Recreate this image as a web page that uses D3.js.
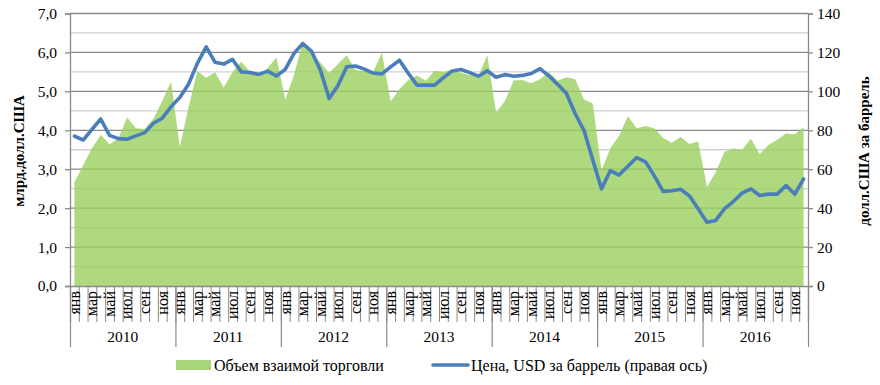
<!DOCTYPE html>
<html><head><meta charset="utf-8">
<script src="https://cdn.jsdelivr.net/npm/d3@7/dist/d3.min.js"></script>
<style>
body{margin:0;background:#fff;}
text{font-family:"Liberation Serif","Times New Roman",serif;fill:#000;}
</style></head>
<body><svg id="c" width="880" height="385"></svg>
<script>
const years = ["2010","2011","2012","2013","2014","2015","2016"];
const monthNames = ["янв","фев","мар","апр","май","июн","июл","авг","сен","окт","ноя","дек"];
const tradeVolume = [
  2.66,3.10,3.54,3.88,3.64,3.79,4.33,4.05,4.03,4.30,4.75,5.25,
  3.58,4.60,5.52,5.35,5.49,5.10,5.50,5.76,5.50,5.38,5.60,5.87,
  4.79,5.42,6.28,6.00,5.74,5.47,5.70,5.93,5.54,5.53,5.50,5.99,
  4.74,5.06,5.29,5.41,5.27,5.53,5.50,5.55,5.47,5.42,5.40,5.93,
  4.46,4.75,5.28,5.29,5.21,5.31,5.50,5.27,5.36,5.31,4.79,4.69,
  2.97,3.54,3.86,4.36,4.05,4.11,4.05,3.81,3.68,3.83,3.65,3.72,
  2.54,2.93,3.45,3.53,3.50,3.78,3.39,3.62,3.76,3.92,3.90,4.08
];
const oilPrice = [
  77.0,75.0,80.5,85.8,77.4,75.7,75.4,77.1,78.8,83.6,86.2,92.1,
  96.9,103.8,114.4,122.9,115.0,114.0,116.4,110.0,109.7,108.7,110.4,107.9,
  111.3,119.5,124.6,120.5,110.9,96.3,103.0,112.6,113.0,111.4,109.4,109.0,
  112.6,116.0,109.3,103.2,103.2,103.2,107.0,110.5,111.2,109.6,107.8,110.6,
  107.2,108.6,107.8,108.2,109.2,111.7,108.0,103.6,99.0,88.5,80.0,64.8,
  49.8,59.3,57.0,61.5,66.0,63.8,56.7,48.6,48.9,49.7,46.3,39.7,
  32.7,33.7,39.7,43.4,47.7,49.9,46.5,47.2,47.2,51.6,47.2,55.0
];
const leftTicks = [0,1,2,3,4,5,6,7];
const rightTicks = [0,20,40,60,80,100,120,140];
const legendLabels = ["Объем взаимой торговли","Цена, USD за баррель (правая ось)"];
const axisTitles = ["млрд.долл.США","долл.США за баррель"];

const svg = d3.select("#c");
const L = 70, R = 808, T = 13.5, B = 286;
const n = tradeVolume.length;
const idx = d3.range(n);
const x = d3.scaleBand().domain(idx).range([L, R]).padding(0);
const xb = d3.scaleLinear().domain([0, n]).range([L, R]);
const cx = i => x(i) + x.bandwidth() / 2;
const yL = d3.scaleLinear().domain([0, 7]).range([B, T]);
const yR = d3.scaleLinear().domain([0, 140]).range([B, T]);

// gridlines
const gridVals = d3.range(0.5, 7.01, 0.5);
svg.append("g").selectAll("line").data(gridVals).join("line")
  .attr("x1", L).attr("x2", R)
  .attr("y1", d => yL(d)).attr("y2", d => yL(d))
  .attr("stroke", d => Math.abs(d - Math.round(d)) < 1e-6 ? "#8a8a8a" : "#d2d2d2")
  .attr("stroke-width", 1.3);

// area
svg.append("path").datum(idx)
  .attr("d", d3.area().x(i => cx(i)).y0(yL(0)).y1(i => yL(tradeVolume[i])))
  .attr("fill", "#9bcf5e").attr("fill-opacity", 0.8);

// line
svg.append("path").datum(idx)
  .attr("d", d3.line().x(i => cx(i)).y(i => yR(oilPrice[i])))
  .attr("fill", "none").attr("stroke", "#4a7ebb").attr("stroke-width", 3.6)
  .attr("stroke-linejoin", "round").attr("stroke-linecap", "round");

const fmt = d => d3.format(".1f")(d).replace(".", ",");
// left axis
const gl = svg.append("g").attr("transform", `translate(${L},0)`)
  .call(d3.axisLeft(yL).tickValues(leftTicks).tickFormat(fmt).tickSize(5).tickPadding(8));
// right axis
const gr = svg.append("g").attr("transform", `translate(${R},0)`)
  .call(d3.axisRight(yR).tickValues(rightTicks).tickFormat(d3.format("d")).tickSize(5).tickPadding(4));
[gl, gr].forEach(g => {
  g.select(".domain").attr("stroke", "#8a8a8a").attr("stroke-width", 1.3);
  g.selectAll(".tick line").attr("stroke", "#8a8a8a").attr("stroke-width", 1.3);
  g.selectAll(".tick text").style("font-family", '"Liberation Serif",serif').style("font-size", "15.5px").attr("fill", "#000");
});

// bottom axis: month boundaries
const gb = svg.append("g").attr("transform", `translate(0,${B})`)
  .call(d3.axisBottom(xb).tickValues(d3.range(0, n + 1)).tickSize(36).tickFormat(""));
gb.select(".domain").attr("stroke", "#8a8a8a").attr("stroke-width", 1.3);
gb.selectAll(".tick line").attr("stroke", "#8a8a8a").attr("stroke-width", 1);
const gy = svg.append("g").attr("transform", `translate(0,${B})`)
  .call(d3.axisBottom(xb).tickValues(d3.range(0, n + 1, 12)).tickSize(61).tickFormat(""));
gy.select(".domain").remove();
gy.selectAll(".tick line").attr("stroke", "#8a8a8a").attr("stroke-width", 1.2);

// month labels
svg.append("g").selectAll("text").data(idx.filter(i => i % 2 === 0)).join("text")
  .attr("transform", i => `translate(${cx(i)},${B + 5}) rotate(-90)`)
  .attr("text-anchor", "end").attr("dy", "0.33em")
  .style("font-size", "16px")
  .text(i => monthNames[i % 12]);

// year labels
svg.append("g").selectAll("text").data(years).join("text")
  .attr("x", (d, k) => (xb(k * 12) + xb(k * 12 + 12)) / 2).attr("y", 342)
  .attr("text-anchor", "middle").style("font-size", "15.5px")
  .text(d => d);

// axis titles
svg.append("text").attr("transform", `translate(19,151) rotate(-90)`)
  .attr("text-anchor", "middle").attr("dy", "0.35em")
  .style("font-size", "15px").style("font-weight", "bold").text(axisTitles[0]);
svg.append("text").attr("transform", `translate(864,151) rotate(-90)`)
  .attr("text-anchor", "middle").attr("dy", "0.35em")
  .style("font-size", "15px").style("font-weight", "bold").text(axisTitles[1]);

// legend
const lg = svg.append("g");
lg.append("rect").attr("x", 176).attr("y", 360).attr("width", 35).attr("height", 10).attr("fill", "#a9d57a");
lg.append("text").attr("x", 214).attr("y", 370.5).style("font-size", "16px").text(legendLabels[0]);
lg.append("line").attr("x1", 433).attr("x2", 468).attr("y1", 365).attr("y2", 365)
  .attr("stroke", "#4a7ebb").attr("stroke-width", 3.6).attr("stroke-linecap", "round");
lg.append("text").attr("x", 471).attr("y", 370.5).style("font-size", "16px").text(legendLabels[1]);
</script></body></html>
